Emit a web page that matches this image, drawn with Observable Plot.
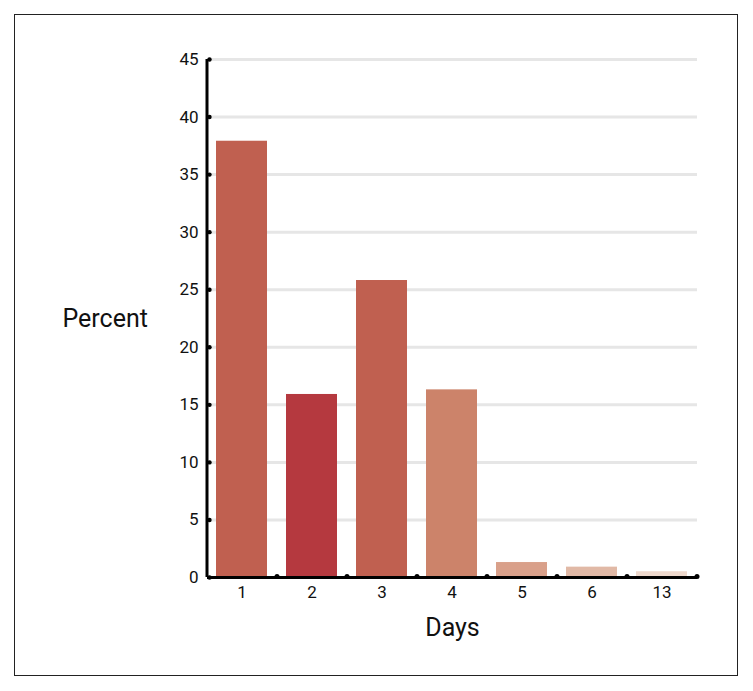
<!DOCTYPE html>
<html>
<head>
<meta charset="utf-8">
<script src="https://cdn.jsdelivr.net/npm/d3@7"></script>
<script src="https://cdn.jsdelivr.net/npm/@observablehq/plot@0.6"></script>
<style>
  html, body { margin: 0; padding: 0; background: #fff; }
  #wrap { position: relative; width: 753px; height: 691px; }
  #border { position: absolute; left: 14px; top: 14px; width: 724px; height: 662px; border: 1.5px solid #222; box-sizing: border-box; }
  #chart { position: absolute; left: 0; top: 0; }
</style>
</head>
<body>
<div id="wrap"><div id="border"></div><div id="chart"></div></div>
<script>
const days = ["1", "2", "3", "4", "5", "6", "13"];
const percent = [37.9, 15.9, 25.8, 16.3, 1.3, 0.9, 0.5];
const colors = ["#c06050", "#b5393f", "#c06050", "#cc836a", "#d9a08a", "#e1b9a6", "#eed8cc"];
const yTicks = [0, 5, 10, 15, 20, 25, 30, 35, 40, 45];

const data = days.map((d, i) => ({day: d, value: percent[i], color: colors[i]}));
const font = "'Roboto', sans-serif";

const chart = Plot.plot({
  width: 753,
  height: 691,
  marginLeft: 207,
  marginRight: 56,
  marginTop: 59,
  marginBottom: 114,
  style: {fontFamily: font, background: "transparent"},
  x: {domain: days, paddingInner: 0.27, paddingOuter: 0.135},
  y: {domain: [0, 45]},
  marks: [
    Plot.ruleY(yTicks.filter(t => t > 0), {stroke: "#e6e6e6", strokeWidth: 3}),
    Plot.barY(data, {x: "day", y: "value", fill: "color"}),
    Plot.axisY(yTicks, {tickSize: 0, tickPadding: 9, fontSize: 17, label: null, fill: "#111"}),
    Plot.axisX({tickSize: 0, tickPadding: 8, fontSize: 17, label: null, fill: "#111"}),
    Plot.ruleX([days[0]], {y1: 0, y2: 45, dx: -35, stroke: "#000", strokeWidth: 3}),
    Plot.ruleY([0], {stroke: "#000", strokeWidth: 3}),
    Plot.dot(yTicks, {y: d => d, frameAnchor: "left", dx: 2, r: 2.2, fill: "#000"}),
    Plot.dot(days, {x: d => d, y: 0, dx: 35, dy: -1, r: 2.5, fill: "#000"}),
    Plot.text(["Percent"], {frameAnchor: "left", dx: -145, textAnchor: "start", fontSize: 25, fill: "#111"}),
    Plot.text(["Days"], {frameAnchor: "bottom", dy: 58, fontSize: 25, fill: "#111"})
  ]
});
document.getElementById("chart").appendChild(chart);
</script>
</body>
</html>
